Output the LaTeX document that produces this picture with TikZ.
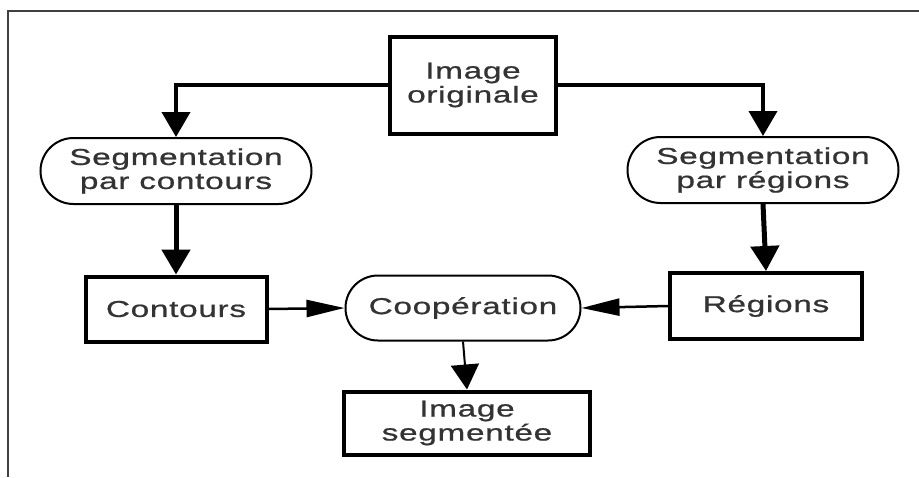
\documentclass[tikz,border=0pt]{standalone}
\usepackage{fontspec}
\newfontfamily\diagfont[FakeStretch=1.45,LetterSpace=3,FakeBold=0.8]{Liberation Sans}
\usetikzlibrary{arrows.meta,shapes.misc}

\begin{document}
\begin{tikzpicture}
  [x=1pt, y=-1pt,
   every node/.style={font=\diagfont\fontsize{23}{24}\selectfont, text=black!80, align=center, inner sep=0pt},
   databox/.style={rectangle, draw=black, line width=4pt},
   process/.style={rounded rectangle, draw=black, line width=2pt, minimum width=271pt, minimum height=66pt},
   bigarrow/.style={line width=4pt, -{Triangle[length=25pt, width=28pt]}},
   thinarrow/.style={line width=2.5pt, -{Triangle[length=38pt, width=17pt]}}]

  \useasboundingbox (0,0) rectangle (919,477);
  \draw[line width=2.5pt, black!75] (919,11) -| (8,477);

  \node[databox, minimum width=166pt, minimum height=97pt] (orig) at (473,85) {Image\\originale};
  \node[process] (segc) at (176,171) {Segmentation\\par contours};
  \node[process] (segr) at (763,170) {Segmentation\\par r\'egions};
  \node[databox, minimum width=181pt, minimum height=65pt] (cont) at (176,309) {Contours};
  \node[databox, minimum width=192pt, minimum height=66pt] (reg) at (766,306) {R\'egions};
  \node[process, minimum width=235pt, minimum height=65pt] (coop) at (463,308) {Coop\'eration};
  \node[databox, minimum width=246pt, minimum height=63pt] (segm) at (467,423) {Image\\segment\'ee};

  \draw[bigarrow] (orig.west) -| (segc.north);
  \draw[bigarrow] (orig.east) -| (segr.north);
  \foreach \from/\to in {segc/cont, segr/reg}
    \draw[bigarrow, line width=5pt] (\from.south) -- (\to.north);
  \foreach \from/\to in {cont.east/coop.west, reg.west/coop.east}
    \draw[thinarrow] (\from) -- (\to);
  \draw[bigarrow, line width=2pt] (coop.south) -- (segm.north);
\end{tikzpicture}
\end{document}
